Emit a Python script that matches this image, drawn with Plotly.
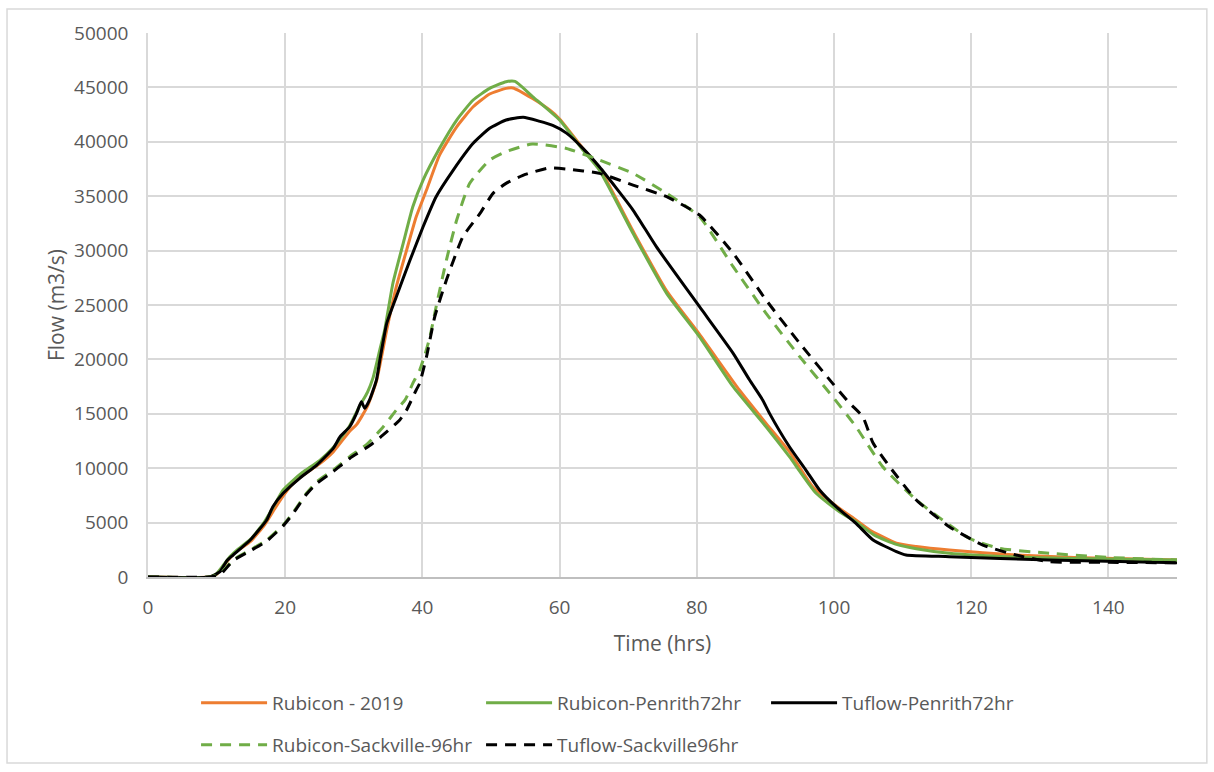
import plotly.graph_objects as go

# ---------------- data ----------------
t_rub2019 = [0, 9, 10, 11, 12, 13, 15, 17, 18.5, 20, 21, 22.5, 25, 27, 29.4, 30.4, 32, 33.3, 34.8, 36.2,
             37.7, 39.1, 40.6, 42.5, 45, 47.4, 49.8, 52.2, 53.2, 56, 58.6, 60, 63.4, 65.8, 70.7, 75.6, 80.4,
             86.2, 90.1, 93.5, 96.9, 100.8, 103.2, 105.2, 109.1, 112, 116.8, 126.5, 135, 150]
q_rub2019 = [0, 0, 250, 1000, 1800, 2400, 3300, 4800, 6300, 7700, 8500, 9300, 10400, 11500, 13400, 14000,
             15700, 18000, 22700, 26680, 30050, 33110, 35570, 38780, 41380, 43220, 44390, 44910, 44950, 44000,
             42900, 42100, 39400, 37600, 31800, 26300, 22300, 17190, 14120, 11520, 8300, 6310, 5240, 4320,
             3100, 2800, 2480, 2020, 1800, 1560]

t_rub_pen = [0, 9, 10, 11, 12, 13, 15, 17, 18.5, 19.7, 21, 22.5, 25, 27, 29.4, 30.8, 32, 32.8, 33.8, 34.5,
             35.7, 37.2, 38.6, 40.1, 42.5, 45, 47.4, 49.8, 52.2, 53.5, 56.1, 60, 63.4, 65.8, 70.7, 75.6, 80.4,
             85.3, 90.1, 93.5, 97.4, 100.8, 103.2, 106, 109.1, 112, 116.8, 125, 135, 150]
q_rub_pen = [0, 0, 300, 1100, 1900, 2500, 3500, 5100, 6700, 8000, 8800, 9600, 10700, 11900, 13900, 15650,
             17000, 18300, 20900, 22700, 27000, 30670, 34030, 36480, 39400, 42000, 43840, 44910, 45520, 45550,
             44140, 42000, 39240, 37400, 31590, 26070, 22080, 17490, 13810, 11060, 7690, 6000, 5080, 3800,
             3000, 2600, 2180, 1870, 1700, 1560]

t_tuf_pen = [0, 9, 10.5, 11.5, 12.4, 14.9, 17.3, 18.2, 19.7, 22.1, 24.6, 27, 28, 29.4, 30.4, 31.1, 31.6,
             32.3, 33.3, 33.8, 34.8, 36.2, 38.2, 40.1, 42, 44.5, 47.4, 49.8, 52.2, 54.7, 57, 59, 61, 63.4,
             65.8, 70.7, 74.1, 80.4, 85.3, 87.7, 89.6, 90.6, 93.5, 95.9, 97.9, 100.3, 103.2, 105.7, 109.1,
             110.5, 116.8, 131.4, 150]
q_tuf_pen = [0, 0, 490, 1500, 2020, 3400, 5240, 6460, 7690, 9070, 10290, 11830, 12890, 13810, 15040, 16110,
             15500, 16270, 18100, 19940, 23310, 25760, 29130, 32190, 34950, 37400, 39860, 41240, 42000, 42250,
             41900, 41500, 40800, 39400, 37700, 33730, 30360, 24840, 20560, 18100, 16270, 15040, 11970, 9830,
             8000, 6460, 4930, 3400, 2330, 2020, 1870, 1560, 1310]

t_rub_sack = [0, 9, 10.5, 12.4, 14.9, 17.3, 19.7, 21, 22.1, 23.1, 24.6, 27, 29.4, 31.9, 34.3, 36.2, 37.5,
              38.6, 39.6, 40.4, 41.1, 42, 43.5, 45, 46.9, 49.8, 52.2, 56, 61, 65.8, 70.7, 75.6, 80.4, 85.3,
              90.1, 95, 99.8, 103.2, 107.1, 112, 119.7, 124.1, 131.4, 140, 150]
q_rub_sack = [0, 0, 300, 1560, 2480, 3400, 4780, 5800, 6800, 7700, 8760, 9830, 11060, 12200, 13810, 15350,
              16300, 17800, 19000, 20500, 22080, 24840, 29130, 32810, 36180, 38320, 39090, 39800, 39390,
              38320, 37100, 35260, 33110, 28520, 24230, 20250, 16570, 13810, 10140, 7080, 3560, 2640, 2180,
              1800, 1560]

t_tuf_sack = [0, 9, 10.5, 12.4, 14.9, 17.3, 19.7, 21, 22.1, 23.1, 24.6, 27, 29.4, 31.9, 33.8, 36.7, 37.7,
              39.1, 39.6, 40.6, 41.8, 43.5, 45.9, 48.4, 50.3, 52.2, 55, 58.5, 61, 65.8, 70.7, 75.6, 80.4,
              85.3, 90.1, 95, 99.8, 102.3, 104.2, 105.7, 108.1, 112, 116.8, 121.7, 126.5, 131.4, 140, 150]
q_tuf_sack = [0, 0, 200, 1500, 2400, 3300, 4700, 5700, 6700, 7600, 8600, 9700, 10900, 11900, 12800, 14430,
              15350, 17190, 17800, 20250, 23920, 27290, 31270, 33420, 35260, 36180, 37000, 37600, 37500,
              37100, 36020, 34950, 33270, 29750, 25460, 21480, 17800, 15960, 14730, 12310, 10140, 7080, 4620,
              2940, 2020, 1410, 1350, 1300]

x_ticks = [0, 20, 40, 60, 80, 100, 120, 140]
y_ticks = [0, 5000, 10000, 15000, 20000, 25000, 30000, 35000, 40000, 45000, 50000]

# ---------------- figure ----------------
FONT = "Open Sans"
GREY = "#595959"
DASH = "11px,8px"


def line(color, dash=None):
    d = dict(color=color, width=3, shape="spline", smoothing=0.5)
    if dash:
        d["dash"] = dash
    return d


fig = go.Figure()
fig.add_trace(go.Scatter(x=t_rub2019, y=q_rub2019, mode="lines", name="Rubicon - 2019",
                         line=line("#ED7D31"), legend="legend"))
fig.add_trace(go.Scatter(x=t_rub_pen, y=q_rub_pen, mode="lines", name="Rubicon-Penrith72hr",
                         line=line("#70AD47"), legend="legend"))
fig.add_trace(go.Scatter(x=t_tuf_pen, y=q_tuf_pen, mode="lines", name="Tuflow-Penrith72hr",
                         line=line("#000000"), legend="legend"))
fig.add_trace(go.Scatter(x=t_rub_sack, y=q_rub_sack, mode="lines", name="Rubicon-Sackville-96hr",
                         line=line("#70AD47", DASH), legend="legend2"))
fig.add_trace(go.Scatter(x=t_tuf_sack, y=q_tuf_sack, mode="lines", name="Tuflow-Sackville96hr",
                         line=line("#000000", DASH), legend="legend2"))

legend_common = dict(orientation="h", xanchor="left", yanchor="middle",
                     xref="container", yref="container",
                     entrywidth=204, entrywidthmode="pixels", itemwidth=66,
                     font=dict(family=FONT, size=19, color=GREY),
                     bgcolor="rgba(0,0,0,0)", tracegroupgap=0)

fig.update_layout(
    width=1214, height=772,
    margin=dict(l=148, r=37, t=33, b=195),
    paper_bgcolor="white", plot_bgcolor="white",
    font=dict(family=FONT, color=GREY),
    showlegend=True,
    legend=dict(x=0.1615, y=0.0894, **legend_common),
    legend2=dict(x=0.1615, y=0.035, **legend_common),
    xaxis=dict(range=[0, 150], tickvals=x_ticks, ticktext=[str(v) for v in x_ticks],
               showgrid=True, gridcolor="#d9d9d9", gridwidth=1.5,
               showline=True, linecolor="#bfbfbf", linewidth=1.5, zeroline=False,
               ticks="", ticklabelstandoff=12,
               tickfont=dict(family=FONT, size=19, color=GREY),
               title=dict(text="Time (hrs)", font=dict(family=FONT, size=21, color=GREY), standoff=18)),
    yaxis=dict(range=[0, 50000], tickvals=y_ticks, ticktext=[str(v) for v in y_ticks],
               showgrid=True, gridcolor="#d9d9d9", gridwidth=1.5,
               showline=True, linecolor="#d9d9d9", linewidth=1.5, zeroline=False,
               ticks="", ticklabelstandoff=14,
               tickfont=dict(family=FONT, size=19, color=GREY),
               title=dict(text="Flow (m3/s)", font=dict(family=FONT, size=21, color=GREY), standoff=4)),
    shapes=[dict(type="rect", xref="paper", yref="paper", x0=-0.137, x1=1.029, y0=-0.342, y1=1.044,
                 line=dict(color="#d9d9d9", width=1.5), fillcolor="rgba(0,0,0,0)", layer="below")],
)

fig.write_html("out.html", config={"displayModeBar": False},
               post_script="document.body.style.margin='0';document.body.style.overflow='hidden';")
